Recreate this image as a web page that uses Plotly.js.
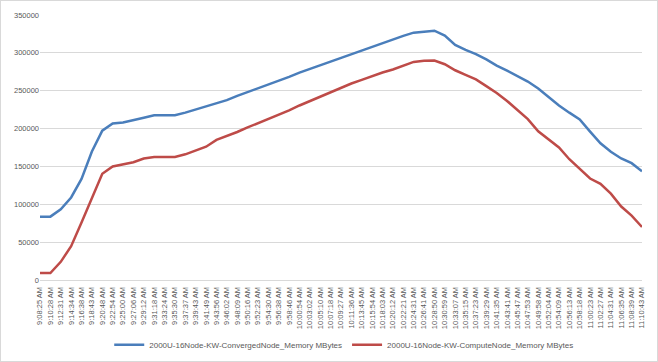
<!DOCTYPE html>
<html>
<head>
<meta charset="utf-8">
<script src="https://cdn.plot.ly/plotly-3.0.1.min.js"></script>
<style>
  html, body { margin: 0; padding: 0; background: #ffffff; }
  #frame { width: 656px; height: 360px; border: 1px solid #d9d9d9; }
  #chart { width: 656px; height: 360px; }
</style>
</head>
<body>
<div id="frame"><div id="chart"></div></div>
<script>
const timeLabels = [
  "9:08:25 AM","9:10:28 AM","9:12:31 AM","9:14:34 AM","9:16:38 AM","9:18:43 AM","9:20:48 AM","9:22:54 AM",
  "9:25:00 AM","9:27:06 AM","9:29:12 AM","9:31:18 AM","9:33:24 AM","9:35:30 AM","9:37:37 AM","9:39:43 AM",
  "9:41:49 AM","9:43:56 AM","9:46:02 AM","9:48:09 AM","9:50:16 AM","9:52:23 AM","9:54:30 AM","9:56:38 AM",
  "9:58:46 AM","10:00:54 AM","10:03:02 AM","10:05:10 AM","10:07:18 AM","10:09:27 AM","10:11:36 AM","10:13:45 AM",
  "10:15:54 AM","10:18:03 AM","10:20:12 AM","10:22:21 AM","10:24:31 AM","10:26:41 AM","10:28:50 AM","10:30:59 AM",
  "10:33:07 AM","10:35:15 AM","10:37:23 AM","10:39:29 AM","10:41:35 AM","10:43:41 AM","10:45:47 AM","10:47:53 AM",
  "10:49:58 AM","10:52:04 AM","10:54:09 AM","10:56:13 AM","10:58:18 AM","11:00:23 AM","11:02:27 AM","11:04:31 AM",
  "11:06:35 AM","11:08:39 AM","11:10:43 AM"
];

const convergedName = "2000U-16Node-KW-ConvergedNode_Memory MBytes";
const computeName = "2000U-16Node-KW-ComputeNode_Memory MBytes";

const convergedMB = [
  83700, 83700, 93500, 109000, 133500, 169700, 197200, 206800,
  208000, 210800, 214300, 217500, 217500, 217500, 221000, 225200,
  229000, 233300, 237500, 243200, 248200, 252900, 257400, 262600,
  268300, 273800, 278700, 283500, 288200, 293200, 297900, 302500,
  307900, 313300, 317800, 322500, 326700, 328400, 329300, 322800,
  310500, 303800, 298300, 291300, 283200, 276500, 269300, 262100,
  253000, 242000, 230500, 221000, 212200, 196000, 180500, 169300,
  160500, 154300, 143500
];

const computeMB = [
  9200, 9200, 24000, 44700, 75900, 108000, 140300, 150000,
  152500, 155500, 160400, 162500, 162600, 162600, 166000, 170900,
  176000, 185000, 189900, 195500, 201500, 207000, 212000, 218000,
  224000, 230500, 236500, 242000, 248000, 254000, 259500, 264300,
  269300, 274000, 278000, 283300, 288000, 289600, 289900, 285000,
  277000, 271000, 265000, 256000, 247000, 236500, 225000, 212500,
  196500, 186000, 175000, 159500, 147000, 134000, 127000, 114000,
  97000, 85000, 70000
];

const yTicks = [0, 50000, 100000, 150000, 200000, 250000, 300000, 350000];

const idx = timeLabels.map((_, i) => i);

const traces = [
  { x: idx, y: convergedMB, name: convergedName, type: "scatter", mode: "lines",
    line: { color: "#4A7EBB", width: 2.5 } },
  { x: idx, y: computeMB, name: computeName, type: "scatter", mode: "lines",
    line: { color: "#BE4B48", width: 2.5 } }
];

const font = { family: "Liberation Sans, Arial, sans-serif", size: 7.5, color: "#595959" };

const layout = {
  width: 656, height: 360,
  margin: { l: 39, r: 15, t: 14, b: 81, pad: 0, autoexpand: false },
  paper_bgcolor: "#ffffff", plot_bgcolor: "#ffffff",
  font: font,
  showlegend: true,
  legend: { orientation: "h", xref: "paper", x: 0.115, xanchor: "left",
            yref: "container", y: 0.045, yanchor: "middle",
            font: { family: "Liberation Sans, Arial, sans-serif", size: 8, color: "#595959" },
            itemwidth: 30, tracegroupgap: 0 },
  xaxis: {
    type: "linear", range: [0, 58], tickmode: "array", tickvals: idx, ticktext: timeLabels,
    tickangle: -90, showgrid: false, zeroline: false, showline: true, linecolor: "#d9d9d9", linewidth: 1,
    ticks: "", ticklabelstandoff: 3, tickfont: font, fixedrange: true, automargin: false
  },
  yaxis: {
    range: [0, 350000], tickmode: "array", tickvals: yTicks, ticktext: yTicks.map(String),
    showgrid: true, gridcolor: "#d9d9d9", gridwidth: 1, zeroline: false, showline: false,
    ticks: "", tickfont: font, fixedrange: true, automargin: false
  }
};

Plotly.newPlot("chart", traces, layout, { displayModeBar: false, staticPlot: true });
</script>
</body>
</html>
